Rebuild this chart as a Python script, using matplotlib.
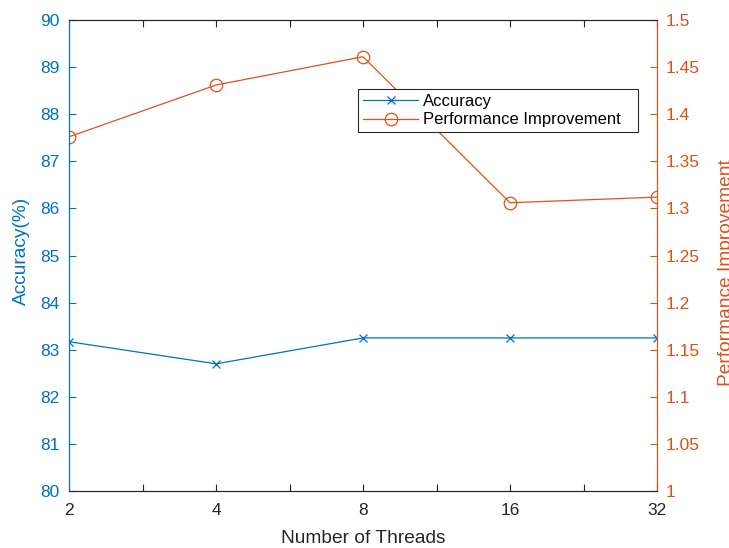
import matplotlib
matplotlib.use('Agg')
import matplotlib.pyplot as plt

plt.rcParams['font.family'] = ['Liberation Sans', 'DejaVu Sans']

threads = ['2', '4', '8', '16', '32']
accuracy = [83.17, 82.70, 83.25, 83.25, 83.25]
perf_improvement = [1.376, 1.431, 1.461, 1.306, 1.312]

blue = '#0072BD'
orange = '#D95319'
gray = '#262626'

fig = plt.figure(figsize=(7.29, 5.48), dpi=100)
ax = fig.add_axes([0.0947, 0.104, 0.8066, 0.8595])
ax2 = ax.twinx()

x = list(range(len(threads)))
l1, = ax.plot(x, accuracy, color=blue, lw=0.9, marker='x', ms=6, mew=0.9,
              label='Accuracy')
l2, = ax2.plot(x, perf_improvement, color=orange, lw=0.9, marker='o', ms=9,
               mfc='none', mew=0.9, label='Performance Improvement')

ax.set_xlim(0, 4)
ax.set_xticks(x)
ax.set_xticklabels(threads)
ax.set_xticks([0.5, 1.5, 2.5, 3.5], minor=True)
ax.tick_params(axis='x', which='both', direction='in', top=True, length=5,
               width=0.8, color=gray, labelsize=12.5, labelcolor=gray, pad=8.5)

ax.set_ylim(80, 90)
ax.set_yticks(range(80, 91))
ax.tick_params(axis='y', direction='in', length=5, width=0.8, colors=blue,
               labelsize=12.5, pad=7)
ax2.set_ylim(1, 1.5)
ax2.set_yticks([1 + 0.05 * i for i in range(11)])
ax2.set_yticklabels(['1', '1.05', '1.1', '1.15', '1.2', '1.25', '1.3', '1.35',
                     '1.4', '1.45', '1.5'])
ax2.tick_params(axis='y', direction='in', length=5, width=0.8, colors=orange,
                labelsize=12.5, pad=6)

for a in (ax, ax2):
    a.spines['top'].set_color(gray)
    a.spines['bottom'].set_color(gray)
    a.spines['top'].set_linewidth(0.8)
    a.spines['bottom'].set_linewidth(0.8)
ax.spines['left'].set_color(blue)
ax2.spines['left'].set_color(blue)
ax.spines['right'].set_color(orange)
ax2.spines['right'].set_color(orange)

ax.set_xlabel('Number of Threads', fontsize=13.75, color=gray, labelpad=9)
ax.set_ylabel('Accuracy(%)', fontsize=13.75, color=blue)
ax.yaxis.set_label_coords(-0.066, 0.51)
ax2.set_ylabel('Performance Improvement', fontsize=13.75, color=orange)
ax2.yaxis.set_label_coords(1.103, 0.463)

# legend box spans x 358..638 px, top at 89 px
leg = ax2.legend([l1, l2], ['Accuracy', 'Performance Improvement'],
                 loc='upper left', bbox_to_anchor=(0.4915, 0.5, 0.476, 0.3535),
                 mode='expand', fontsize=12, frameon=True, fancybox=False,
                 framealpha=1, edgecolor=gray, borderpad=0.3,
                 handlelength=3.3, handletextpad=0.3, labelspacing=0.2,
                 borderaxespad=0)
leg.get_frame().set_linewidth(0.8)

fig.savefig('out.png', dpi=100)
